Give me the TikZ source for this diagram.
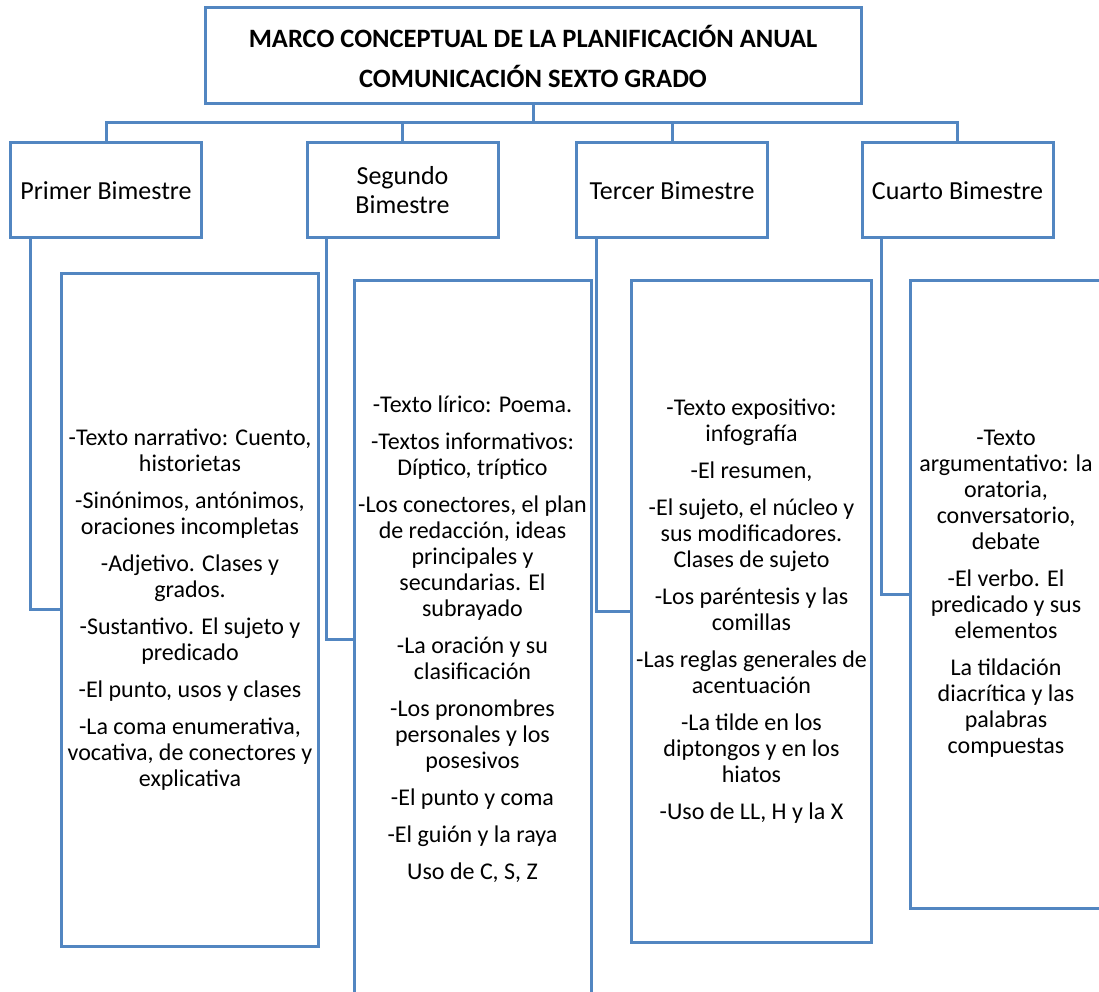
\documentclass[tikz,border=0pt]{standalone}
\usepackage{fontspec}
\setmainfont{Carlito}
\usetikzlibrary{positioning}
\definecolor{lineblue}{RGB}{82,134,193}

\begin{document}
\begin{tikzpicture}[x=1pt,y=-1pt,line width=3pt,
  box/.style={draw=lineblue,fill=white,rectangle,outer sep=0pt,inner sep=0pt,align=center},
  title/.style={box,minimum width=656pt,minimum height=96pt,font=\bfseries\fontsize{26.5}{40}\selectfont},
  term/.style={box,minimum width=191pt,minimum height=95pt,font=\fontsize{26}{29}\selectfont},
  topic/.style={box,font=\fontsize{24}{26}\selectfont},
  link/.style={draw=lineblue,line width=3pt}]

  \useasboundingbox (0,0) rectangle (1099,992);
  \clip (0,0) rectangle (1099,992);

  \node[title] (marco) at (533,56) {MARCO CONCEPTUAL DE LA PLANIFICACIÓN ANUAL\\COMUNICACIÓN SEXTO GRADO};
  \coordinate (bus) at (533,123);

  \node[term] (b1) at (106,190.5) {Primer Bimestre};
  \node[term] (b2) at (402.5,190.5) {Segundo\\Bimestre};
  \node[term] (b3) at (672,190.5) {Tercer Bimestre};
  \node[term] (b4) at (957.5,190.5) {Cuarto Bimestre};

  \node[topic,minimum width=257pt,minimum height=673pt,below right=35pt and 51pt of b1.south west] (c1)
    {-Texto narrativo: Cuento,\\historietas\\[11pt]
     -Sinónimos, antónimos,\\oraciones incompletas\\[11pt]
     -Adjetivo. Clases y\\grados.\\[11pt]
     -Sustantivo. El sujeto y\\predicado\\[11pt]
     -El punto, usos y clases\\[11pt]
     -La coma enumerativa,\\vocativa, de conectores y\\explicativa};
  \node[topic,minimum width=237pt,minimum height=718pt,below right=42pt and 47pt of b2.south west] (c2)
    {-Texto lírico: Poema.\\[11pt]
     -Textos informativos:\\Díptico, tríptico\\[11pt]
     -Los conectores, el plan\\de redacción, ideas\\principales y\\secundarias. El\\subrayado\\[11pt]
     -La oración y su\\clasificación\\[11pt]
     -Los pronombres\\personales y los\\posesivos\\[11pt]
     -El punto y coma\\[11pt]
     -El guión y la raya\\[11pt]
     Uso de C, S, Z};
  \node[topic,minimum width=240pt,minimum height=662pt,below right=42pt and 55pt of b3.south west] (c3)
    {-Texto expositivo:\\infografía\\[11pt]
     -El resumen,\\[11pt]
     -El sujeto, el núcleo y\\sus modificadores.\\Clases de sujeto\\[11pt]
     -Los paréntesis y las\\comillas\\[11pt]
     -Las reglas generales de\\acentuación\\[11pt]
     -La tilde en los\\diptongos y en los\\hiatos\\[11pt]
     -Uso de LL, H y la X};
  \node[topic,minimum width=192pt,minimum height=628pt,below right=42pt and 48pt of b4.south west] (c4)
    {-Texto\\argumentativo: la\\oratoria,\\conversatorio,\\debate\\[11pt]
     -El verbo. El\\predicado y sus\\elementos\\[11pt]
     La tildación\\diacrítica y las\\palabras\\compuestas};

  \draw[link] (marco.south) -- (bus);
  \foreach \b in {b1,b2,b3,b4}
    \draw[link] (bus) -| (\b.north);

  \foreach \b/\c in {b1/c1,b2/c2,b3/c3,b4/c4}
    \draw[link] ([xshift=19.5pt]\b.south west) |- (\c.west);

\end{tikzpicture}
\end{document}
